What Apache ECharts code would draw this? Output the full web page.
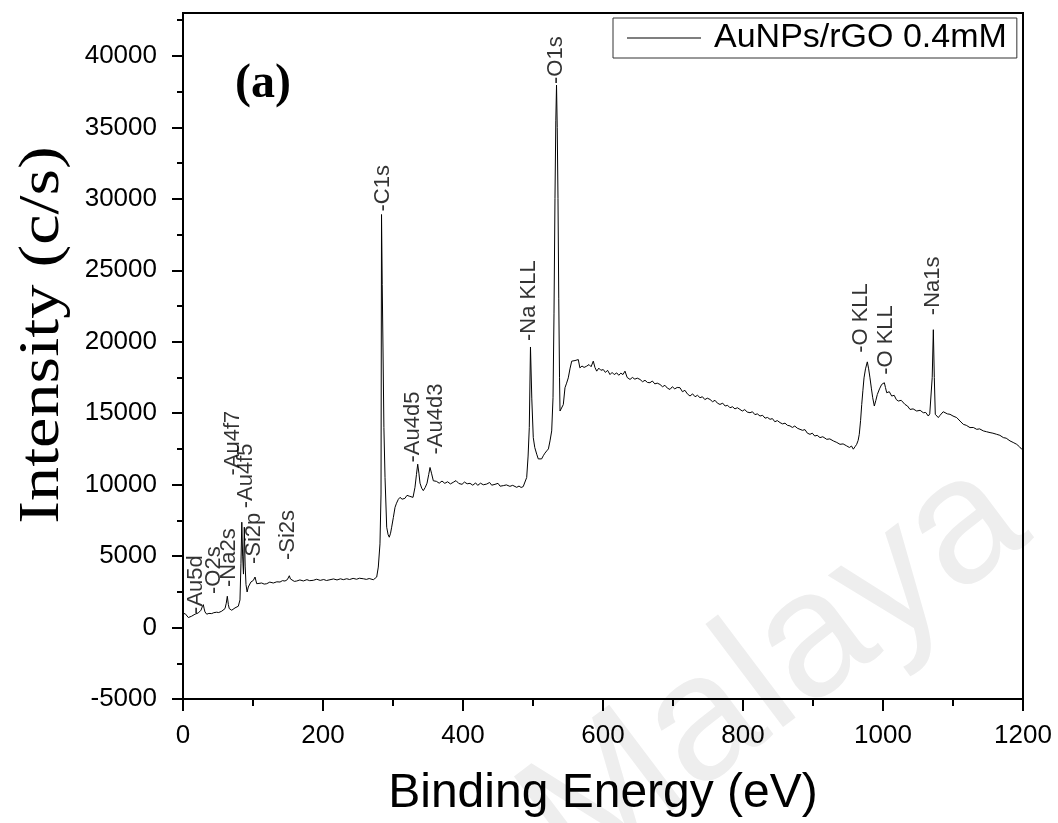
<!DOCTYPE html>
<html>
<head>
<meta charset="utf-8">
<script src="https://cdn.jsdelivr.net/npm/echarts/dist/echarts.min.js"></script>
<style>
html,body{margin:0;padding:0;background:#fff;}
#chart{width:1058px;height:823px;}
</style>
</head>
<body>
<div id="chart"></div>
<script>
// ---- data ----
var seriesName = 'AuNPs/rGO 0.4mM';
var energy = [
0,3,7.6,10,12.4,15,17.1,19.5,21.9,24,25.7,27.5,29,30.3,31.4,33.9,37,41,44,48.1,51,55.3,58,60,61.8,63.3,64.8,66.1,69.6,72,74.3,77,79,81.4,82.8,84,85.2,86.4,87.6,88.8,90,91.6,93.3,97,100.5,102.9,105.3,108,112.4,116,119.6,124,129,134,138.6,142,145.7,149,151.9,153.5,155.3,159,162.4,167,172,177,181,186.1,191,196,201,205,210,215,220,225,229,233.9,238,243,248,252,257.6,262,266,271.9,274.5,276.7,279,281.4,282.9,283.6,284.6,285.7,287,288.6,291,293,294.7,296.5,298.1,300.5,302.9,305,307.6,310,313,317,320,324,326,328.6,331.4,333.5,335.3,337,338.6,341,343.3,346,348.6,351,352.9,355,357.6,360,362,366,370,374,378,382,386,390,394,398.6,402,406,410,414,418,421,425,429,433.9,438,441,445.7,450,453,457.6,462,467,471,476.7,480,483,486,488.5,491,493,494.7,496.4,498.3,500.4,502.5,505.3,507.5,510,512.3,514.7,517,519.6,522,524.3,526.7,528.6,530,531.4,532.6,533.6,534.6,535.7,536.8,537.9,538.6,541,543.3,545.7,548,550.4,552.8,555.3,557.5,560,562.3,564.7,567,570,573,576.7,580,583,586.1,588.5,591,594,597,600.4,603.5,606.5,610,613,616,619.6,622.5,625.5,628.5,631.4,634.5,638.6,642,645.5,649,652.9,656.5,660,663.5,667.1,670.5,674,677.5,681.4,685,688.5,692,695.7,699,702.5,706,710,713.5,717,720.5,724.3,728,731.5,735,738.6,742,745.5,749,752.9,756.5,760,763.5,767.1,771,774.5,778,781.4,785,788.5,792,795.7,799,802.5,806,810,813.5,817,820.5,824.3,828,831.5,835,838.6,842,845.5,849,852.9,856.5,860,863.5,867.1,870.5,874,877.5,881.4,885,888.5,892,895.7,899,902.5,906,910,914,919.6,924,929,934,938.6,943,948.1,952,955,957.6,960,962.4,964.5,966.1,968,969.6,971.3,972.9,975,977.6,979.5,981.4,983.5,985.3,987.6,989.8,991.9,995,998.1,1000,1001.9,1003.5,1005.3,1009,1012.4,1016,1019,1021.9,1026,1031.4,1035,1038.6,1043,1048.1,1053,1057.6,1061,1064.7,1066.8,1068.6,1070.3,1071.9,1073.3,1074.7,1077,1079,1081.5,1083.9,1086,1088.6,1092,1095.7,1100,1105.3,1110,1114.7,1119,1124.3,1129,1133.9,1138,1143.3,1148,1152.9,1157,1162.4,1167,1171.9,1176,1181.4,1186,1191,1195,1198.1,1200
];
var intensity = [
950,976,700,760,795,880,934,900,1025,1100,1213,1450,1603,1300,1094,934,990,976,1040,1073,1050,1143,1200,1324,1700,2189,1600,1324,1213,1300,1373,1420,1492,1931,4500,7370,5000,3740,7020,4300,3000,2488,2837,3185,3300,3534,3067,3150,3116,3040,3067,3180,3116,3200,3185,3280,3255,3350,3624,3400,3304,3230,3255,3330,3260,3350,3280,3304,3380,3300,3360,3290,3346,3400,3330,3410,3350,3415,3360,3440,3380,3450,3415,3370,3430,3346,3400,3534,4231,5855,9340,28900,24000,19560,14000,10500,7020,6500,6320,6600,7020,7700,8410,8700,8970,9110,8980,9040,9250,9180,9050,9110,9810,10700,11430,10800,10100,9750,9580,9800,10100,10700,11200,10800,10270,10150,10230,10100,10250,10090,10200,10050,10160,10280,10080,10020,10180,10060,10090,9960,10120,9950,10100,9990,10040,10150,9960,10020,10090,9890,9930,9980,9880,9950,9810,9900,9800,9860,9950,10500,12000,13990,19630,16000,13290,12600,12130,11800,11670,11800,12020,12200,12360,12500,13060,13760,16080,22000,30020,35500,37960,35000,30020,23000,17480,15150,15240,15600,16780,17100,17470,18100,18640,18550,18680,18560,18750,18170,18300,18200,18290,18400,18250,18640,18200,17940,18150,18000,18050,17850,18000,17700,17850,17700,17820,17650,17800,17700,17940,17500,17360,17500,17380,17450,17360,17200,17300,17150,17130,17250,17050,17100,17010,16850,16950,16750,16660,16850,16700,16800,16780,16500,16600,16350,16200,16350,16150,16250,16080,16150,15950,16050,15960,15800,15900,15700,15610,15700,15500,15550,15380,15450,15300,15380,15260,15150,15250,15080,15030,15100,14900,14950,14800,14850,14650,14700,14570,14620,14400,14480,14340,14250,14300,14150,14110,14000,14100,13950,13870,13800,13850,13600,13520,13600,13400,13450,13290,13350,13170,13200,13060,12950,12820,12850,12710,12600,12700,12480,12650,12820,13100,13520,14500,15610,16600,17470,18100,18590,18100,17470,16700,16080,15500,15900,16310,16700,17010,16950,17130,16800,16430,16500,16200,16250,15950,15850,15900,15610,15500,15260,15300,15150,15200,15030,15050,14800,14950,15030,17500,20840,17500,14920,15000,14690,14850,14920,15100,15030,14950,14920,14800,14690,14450,14220,14150,13990,14000,13870,13900,13760,13700,13640,13600,13520,13450,13290,13250,13060,12950,12820,12650,12480,12400
];
// peak annotations: text, energy and intensity at the start of the text
var peakNames = ['-Au5d','-O2s','-Na2s','-Au4f7','-Au4f5','-Si2p','-Si2s','-C1s','-Au4d5','-Au4d3','-Na KLL','-O1s','-O KLL','-O KLL','-Na1s'];
var peakE = [18.6,44.3,65.7,71.4,90,101.4,150,285.7,328.6,361.4,494.3,532.9,968.6,1004.3,1071.4];
var peakI = [955,2349,2837,10640,8340,4440,4720,29110,11550,12110,20050,38030,19220,17680,21860];
var yMajorTicks = [-5000,0,5000,10000,15000,20000,25000,30000,35000,40000];
var yMinorTicks = [-2500,2500,7500,12500,17500,22500,27500,32500,37500,42500];
var xTitle = 'Binding Energy (eV)';
var yTitle = 'Intensity (c/s)';

var lineData = energy.map(function(e,i){return [e,intensity[i]];});
var peakData = peakE.map(function(e,i){return [e,peakI[i],peakNames[i]];});

var chart = echarts.init(document.getElementById('chart'), null, {renderer:'canvas'});
var black = '#000';
var plain = function(v){return String(v);};
var option = {
  animation:false,
  backgroundColor:'#fff',
  grid:{left:183,right:35,top:13,bottom:121,show:true,borderColor:black,borderWidth:2,backgroundColor:'transparent',containLabel:false},
  legend:{
    data:[{name:seriesName,icon:'rect'}], left:613, top:18, orient:'horizontal',
    borderColor:'#333', borderWidth:1, padding:[3,10,3,14],
    itemWidth:74, itemHeight:1, itemGap:0,
    itemStyle:{color:black},
    textStyle:{fontSize:34,fontFamily:'Liberation Sans',color:black,padding:[0,0,0,8]}
  },
  xAxis:{
    type:'value', min:0, max:1200, interval:200,
    axisLine:{show:true,onZero:false,lineStyle:{color:black,width:2}},
    axisTick:{show:true,inside:false,length:12,lineStyle:{color:black,width:2}},
    minorTick:{show:true,splitNumber:2,length:7,lineStyle:{color:black,width:2}},
    splitLine:{show:false}, minorSplitLine:{show:false},
    axisLabel:{fontSize:26,fontFamily:'Liberation Sans',color:black,margin:24,formatter:plain},
    name:xTitle, nameLocation:'middle', nameGap:71,
    nameTextStyle:{fontSize:48,fontFamily:'Liberation Sans',color:black}
  },
  yAxis:[{
    type:'value', min:-5000, max:43000, interval:5000, position:'left',
    axisLine:{show:true,onZero:false,lineStyle:{color:black,width:2}},
    axisTick:{show:true,inside:false,length:11,lineStyle:{color:black,width:2},customValues:yMajorTicks},
    splitLine:{show:false},
    axisLabel:{fontSize:26,fontFamily:'Liberation Sans',color:black,margin:26,customValues:yMajorTicks,formatter:plain}
  },{
    type:'value', min:-5000, max:43000, interval:5000, position:'left',
    axisLine:{show:false},
    axisTick:{show:true,inside:false,length:6,lineStyle:{color:black,width:2},customValues:yMinorTicks},
    axisLabel:{show:false}, splitLine:{show:false}
  }],
  graphic:[
    {type:'text', z:-10, silent:true, x:600, y:915, rotation:Math.PI*37/180,
      style:{text:'Malaya',fontSize:178,fontFamily:'Liberation Sans',fill:'#eeeeee',textAlign:'left',textVerticalAlign:'bottom'}},
    {type:'text', x:43, y:335, rotation:Math.PI/2, scaleX:1.22, scaleY:1, z:10, silent:true,
      style:{text:yTitle,fontSize:56,fontFamily:'Liberation Serif',fill:black,textAlign:'center',textVerticalAlign:'middle'}},
    {type:'text', x:235, y:85, z:10, silent:true,
      style:{text:'(a)',fontSize:48,fontWeight:'bold',fontFamily:'Liberation Serif',fill:black,textAlign:'left',textVerticalAlign:'middle'}}
  ],
  series:[{
    name:seriesName, type:'line', data:lineData, xAxisIndex:0, yAxisIndex:0,
    symbol:'none', showSymbol:false, smooth:false,
    lineStyle:{color:black,width:1}, itemStyle:{color:black}, z:3
  },{
    name:'peaks', type:'scatter', data:peakData, xAxisIndex:0, yAxisIndex:0,
    symbol:'circle', symbolSize:0.1, itemStyle:{color:'rgba(0,0,0,0)'},
    label:{show:true, position:'inside', rotate:90, align:'left', verticalAlign:'middle',
      fontSize:22, fontFamily:'Liberation Sans', color:black,
      formatter:function(p){return p.data[2];}},
    z:4, silent:true
  }]
};
chart.setOption(option);
</script>
</body>
</html>
